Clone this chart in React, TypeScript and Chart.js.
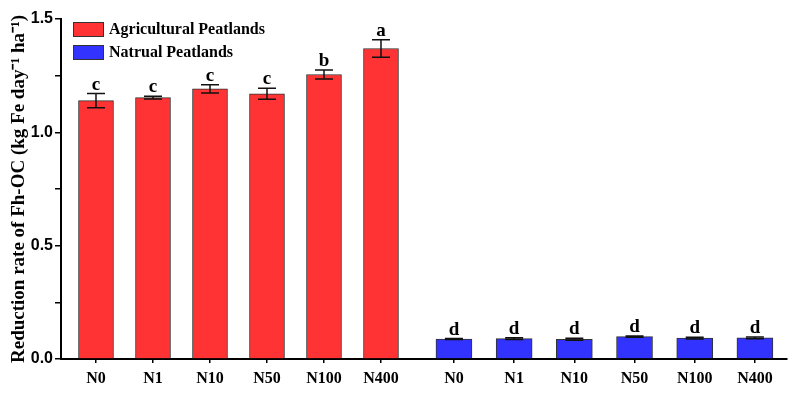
import React, { useEffect, useRef } from 'react';
import { Chart, registerables } from 'chart.js';
Chart.register(...registerables);

const categories = ['N0', 'N1', 'N10', 'N50', 'N100', 'N400'];
const agriValues = [1.14, 1.153, 1.192, 1.17, 1.255, 1.37];
const agriErrors = [0.031, 0.006, 0.018, 0.024, 0.02, 0.039];
const agriLetters = ['c', 'c', 'c', 'c', 'b', 'a'];
const natValues = [0.088, 0.09, 0.087, 0.099, 0.092, 0.093];
const natErrors = [0.002, 0.004, 0.004, 0.003, 0.004, 0.004];
const natLetters = ['d', 'd', 'd', 'd', 'd', 'd'];
const seriesNames = ['Agricultural Peatlands', 'Natrual Peatlands'];
const yTitle = 'Reduction rate of Fh-OC (kg Fe day\u207B\u00B9 ha\u207B\u00B9)';

// layout of the two groups on a numeric x scale
const BLUE_START = 6.28;
const BLUE_STEP = 1.056;
const X_MIN = -0.614;
const X_MAX = 12.123;

const RED = '#ff3333';
const BLUE = '#3333ff';
const SERIF = '"Liberation Serif", "Times New Roman", serif';
const SANS = '"Liberation Sans", Arial, sans-serif';

const redX = categories.map((_, i) => i);
const blueX = categories.map((_, i) => BLUE_START + i * BLUE_STEP);
const tickPositions = [...redX, ...blueX];
const tickLabels = [...categories, ...categories];

const errorBarPlugin = {
  id: 'errorBars',
  afterDatasetsDraw(chart: any) {
    const ctx = chart.ctx;
    const ys = chart.scales.y;
    chart.data.datasets.forEach((ds: any, d: number) => {
      const meta = chart.getDatasetMeta(d);
      meta.data.forEach((el: any, i: number) => {
        const v = ds.data[i].y;
        const e = ds.errors[i];
        const x = el.x;
        const yTop = ys.getPixelForValue(v + e);
        const yBot = ys.getPixelForValue(v - e);
        ctx.save();
        ctx.strokeStyle = '#111';
        ctx.lineWidth = 1.5;
        ctx.beginPath();
        ctx.moveTo(x, yTop);
        ctx.lineTo(x, yBot);
        ctx.moveTo(x - 9, yTop);
        ctx.lineTo(x + 9, yTop);
        ctx.moveTo(x - 9, yBot);
        ctx.lineTo(x + 9, yBot);
        ctx.stroke();
        ctx.fillStyle = '#000';
        ctx.font = `bold 19px ${SERIF}`;
        ctx.textAlign = 'center';
        ctx.textBaseline = 'alphabetic';
        ctx.fillText(ds.letters[i], x, yTop - 4);
        ctx.restore();
      });
    });
  },
};

const legendPlugin = {
  id: 'insideLegend',
  afterDraw(chart: any) {
    const ctx = chart.ctx;
    const { left, top } = chart.chartArea;
    const items = [
      { label: seriesNames[0], color: RED },
      { label: seriesNames[1], color: BLUE },
    ];
    ctx.save();
    items.forEach((it, k) => {
      const bx = left + 12;
      const by = top + 3 + k * 23;
      ctx.fillStyle = it.color;
      ctx.fillRect(bx, by, 31, 15);
      ctx.strokeStyle = '#333';
      ctx.lineWidth = 1;
      ctx.strokeRect(bx + 0.5, by + 0.5, 30, 14);
      ctx.fillStyle = '#000';
      ctx.font = `bold 16px ${SERIF}`;
      ctx.textAlign = 'left';
      ctx.textBaseline = 'middle';
      ctx.fillText(it.label, bx + 36, by + 8);
    });
    ctx.restore();
  },
};

export default function App() {
  const ref = useRef<HTMLCanvasElement | null>(null);
  useEffect(() => {
    document.body.style.margin = '0';
    const canvas = ref.current;
    if (!canvas) return;
    const chart = new Chart(canvas, {
      type: 'bar',
      data: {
        datasets: [
          {
            label: seriesNames[0],
            data: agriValues.map((v, i) => ({ x: redX[i], y: v })),
            backgroundColor: RED,
            borderColor: '#333',
            borderWidth: 1,
            barThickness: 35,
            grouped: false,
            errors: agriErrors,
            letters: agriLetters,
          } as any,
          {
            label: seriesNames[1],
            data: natValues.map((v, i) => ({ x: blueX[i], y: v })),
            backgroundColor: BLUE,
            borderColor: '#333',
            borderWidth: 1,
            barThickness: 36,
            grouped: false,
            errors: natErrors,
            letters: natLetters,
          } as any,
        ],
      },
      options: {
        animation: false,
        responsive: false,
        layout: { padding: { top: 19, right: 13, left: 0, bottom: 0 } },
        plugins: { legend: { display: false }, tooltip: { enabled: false } },
        scales: {
          x: {
            type: 'linear',
            min: X_MIN,
            max: X_MAX,
            offset: false,
            afterBuildTicks: (scale: any) => {
              scale.ticks = tickPositions.map((v) => ({ value: v }));
            },
            afterFit: (scale: any) => {
              scale.height = 38;
            },
            grid: { offset: false, drawOnChartArea: false, drawTicks: true, tickLength: 4, color: '#000', lineWidth: 1.5 },
            border: { display: true, color: '#000', width: 2 },
            ticks: {
              autoSkip: false,
              maxRotation: 0,
              padding: 6,
              color: '#000',
              font: { family: SERIF, size: 16, weight: 'bold' },
              callback: (_v: any, i: number) => tickLabels[i],
            },
          },
          y: {
            min: 0,
            max: 1.5,
            afterFit: (scale: any) => {
              scale.width = 61;
            },
            grid: { drawOnChartArea: false, drawTicks: true, tickLength: 6, color: '#000', lineWidth: 1.5 },
            border: { display: true, color: '#000', width: 2 },
            ticks: {
              stepSize: 0.25,
              padding: 2,
              color: '#000',
              font: { family: SANS, size: 16, weight: 'bold' },
              callback: (v: any) => (Math.abs((v * 2) - Math.round(v * 2)) < 1e-6 ? Number(v).toFixed(1) : ''),
            },
            title: {
              display: true,
              text: yTitle,
              color: '#000',
              font: { family: SERIF, size: 19, weight: 'bold' },
              padding: { top: 8, bottom: 0 },
            },
          },
        },
      } as any,
      plugins: [errorBarPlugin, legendPlugin],
    });
    return () => chart.destroy();
  }, []);
  return (
    <div style={{ width: 800, height: 397, background: '#fff' }}>
      <canvas ref={ref} width={800} height={397} style={{ display: 'block' }} />
    </div>
  );
}
